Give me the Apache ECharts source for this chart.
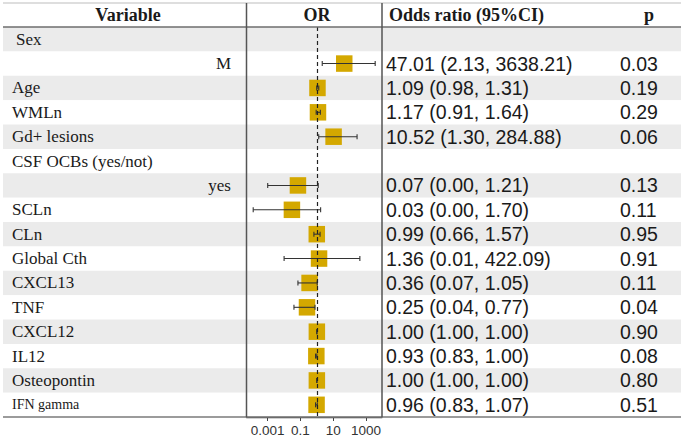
<!DOCTYPE html>
<html>
<head>
<meta charset="utf-8">
<script src="https://cdn.jsdelivr.net/npm/echarts@6/dist/echarts.min.js"></script>
<style>
html,body{margin:0;padding:0;background:#fff;}
#main{width:684px;height:439px;}
</style>
</head>
<body>
<div id="main"></div>
<script>
// ---- data ----
const headers = ['Variable', 'OR', 'Odds ratio (95%CI)', 'p'];
const variables = ['Sex', 'M', 'Age', 'WMLn', 'Gd+ lesions', 'CSF OCBs (yes/not)', 'yes', 'SCLn', 'CLn',
  'Global Cth', 'CXCL13', 'TNF', 'CXCL12', 'IL12', 'Osteopontin', 'IFN gamma'];
const subLevels = ['M', 'yes'];
const orValues = [null, 47.01, 1.09, 1.17, 10.52, null, 0.07, 0.03, 0.99, 1.36, 0.36, 0.25, 1.00, 0.93, 1.00, 0.96];
const ciLower  = [null, 2.13, 0.98, 0.91, 1.30, null, 0.001, 0.00013, 0.66, 0.01, 0.07, 0.04, 1.00, 0.83, 1.00, 0.83];
const ciUpper  = [null, 3638.21, 1.31, 1.64, 284.88, null, 1.21, 1.70, 1.57, 422.09, 1.05, 0.77, 1.00, 1.00, 1.00, 1.07];
const orTexts = ['', '47.01 (2.13, 3638.21)', '1.09 (0.98, 1.31)', '1.17 (0.91, 1.64)', '10.52 (1.30, 284.88)', '',
  '0.07 (0.00, 1.21)', '0.03 (0.00, 1.70)', '0.99 (0.66, 1.57)', '1.36 (0.01, 422.09)', '0.36 (0.07, 1.05)',
  '0.25 (0.04, 0.77)', '1.00 (1.00, 1.00)', '0.93 (0.83, 1.00)', '1.00 (1.00, 1.00)', '0.96 (0.83, 1.07)'];
const pTexts = ['', '0.03', '0.19', '0.29', '0.06', '', '0.13', '0.11', '0.95', '0.91', '0.11', '0.04', '0.90', '0.08', '0.80', '0.51'];
const tickValues = [0.001, 0.1, 10, 1000];
const tickLabels = ['0.001', '0.1', '10', '1000'];
const refValue = 1;

// ---- layout ----
const T_LEFT = 3, T_RIGHT = 681, T_TOP = 27, T_BOTTOM = 417, HEAD_TOP = 3;
const P_LEFT = 246.5, P_RIGHT = 382;
const SERIF = 'Liberation Serif', SANS = 'Liberation Sans';
const GOLD = '#D4A800';

const pointData = [], errData = [];
variables.forEach((v, i) => {
  if (orValues[i] != null) {
    pointData.push([orValues[i], i]);
    errData.push([ciLower[i], ciUpper[i], i]);
  }
});

const chart = echarts.init(document.getElementById('main'), null, {renderer: 'svg'});

function catAxis(gridIndex, extra) {
  return Object.assign({
    type: 'category', gridIndex: gridIndex, inverse: true, data: variables,
    axisLine: {show: false}, axisTick: {show: false}, splitLine: {show: false}
  }, extra);
}

const option = {
  animation: false,
  backgroundColor: '#fff',
  grid: [
    {left: T_LEFT, top: T_TOP, width: T_RIGHT - T_LEFT, height: T_BOTTOM - T_TOP, outerBoundsMode: 'none'},
    {left: P_LEFT, top: T_TOP, width: P_RIGHT - P_LEFT, height: T_BOTTOM - T_TOP, outerBoundsMode: 'none'}
  ],
  xAxis: [
    {type: 'value', gridIndex: 0, show: false, min: 0, max: 1},
    {type: 'log', gridIndex: 1, logBase: 10,
     min: Math.pow(10, -4.295), max: Math.pow(10, 3.977),
     axisLine: {show: true, lineStyle: {color: '#444', width: 1.3}},
     axisTick: {show: true, length: 4, lineStyle: {color: '#444'}, customValues: tickValues},
     axisLabel: {show: true, margin: 6, color: '#333', fontFamily: SANS, fontSize: 13.5, customValues: tickValues,
       formatter: function (v) {
         let best = 0, bd = Infinity;
         tickValues.forEach((t, k) => { const d = Math.abs(Math.log10(t) - Math.log10(v)); if (d < bd) { bd = d; best = k; } });
         return tickLabels[best];
       }},
     splitLine: {show: false}, minorTick: {show: false}}
  ],
  yAxis: [
    catAxis(0, {
      splitArea: {show: true, interval: 0, areaStyle: {color: ['#EBEBEB', '#FFFFFF']}},
      axisLabel: {show: true, interval: 0, inside: true, margin: 9, color: '#1a1a1a', fontFamily: SERIF, fontSize: 17,
        formatter: function (v) {
          if (subLevels.indexOf(v) >= 0) return '{r|' + v + '}';
          if (v === 'IFN gamma') return '{s|' + v + '}';
          if (v === 'Sex') return '{i|' + v + '}';
          return v;
        },
        rich: {
          r: {width: 219, align: 'right', fontFamily: SERIF, fontSize: 17, color: '#1a1a1a'},
          s: {fontFamily: SERIF, fontSize: 14, color: '#1a1a1a'},
          i: {padding: [0, 0, 0, 4], fontFamily: SERIF, fontSize: 17, color: '#1a1a1a'}
        }}
    }),
    catAxis(0, {
      position: 'left', offset: -(386 - T_LEFT),
      axisLabel: {show: true, interval: 0, inside: true, margin: 0, color: '#1a1a1a', fontFamily: SANS, fontSize: 19.5,
        formatter: function (v, i) { return orTexts[i]; }}
    }),
    catAxis(0, {
      position: 'left', offset: -(620 - T_LEFT),
      axisLabel: {show: true, interval: 0, inside: true, margin: 0, color: '#1a1a1a', fontFamily: SANS, fontSize: 19.5,
        formatter: function (v, i) { return pTexts[i]; }}
    }),
    catAxis(1, {axisLabel: {show: false}})
  ],
  series: [
    {
      type: 'scatter', xAxisIndex: 1, yAxisIndex: 3, data: pointData,
      symbol: 'rect', symbolSize: 16.5, itemStyle: {color: GOLD, opacity: 1}, z: 2, silent: true,
      markLine: {
        silent: true, symbol: 'none', label: {show: false}, z: 6,
        lineStyle: {type: [4, 3], color: '#222', width: 1.2},
        data: [{xAxis: refValue}]
      }
    },
    {
      type: 'custom', xAxisIndex: 1, yAxisIndex: 3, data: errData, z: 3, clip: false, silent: true,
      dimensions: ['lo', 'hi', 'row'],
      encode: {x: ['lo', 'hi'], y: 'row'},
      renderItem: function (params, api) {
        const y = api.value(2);
        const a = api.coord([api.value(0), y]);
        const b = api.coord([api.value(1), y]);
        const st = {stroke: '#333', lineWidth: 1.1};
        const h = 2.5;
        return {type: 'group', children: [
          {type: 'line', shape: {x1: a[0], y1: a[1], x2: b[0], y2: b[1]}, style: st},
          {type: 'line', shape: {x1: a[0], y1: a[1] - h, x2: a[0], y2: a[1] + h}, style: st},
          {type: 'line', shape: {x1: b[0], y1: b[1] - h, x2: b[0], y2: b[1] + h}, style: st}
        ]};
      }
    }
  ],
  graphic: [
    {type: 'line', shape: {x1: T_LEFT, y1: HEAD_TOP, x2: T_RIGHT, y2: HEAD_TOP}, style: {stroke: '#BDBDBD', lineWidth: 1}, z: 10},
    {type: 'line', shape: {x1: T_LEFT, y1: T_TOP, x2: T_RIGHT, y2: T_TOP}, style: {stroke: '#6E6E6E', lineWidth: 1.6}, z: 10},
    {type: 'line', shape: {x1: T_LEFT, y1: T_BOTTOM, x2: T_RIGHT, y2: T_BOTTOM}, style: {stroke: '#7A7A7A', lineWidth: 1.6}, z: 10},
    {type: 'line', shape: {x1: P_LEFT, y1: HEAD_TOP, x2: P_LEFT, y2: T_BOTTOM}, style: {stroke: '#555', lineWidth: 1.5}, z: 10},
    {type: 'line', shape: {x1: P_RIGHT, y1: HEAD_TOP, x2: P_RIGHT, y2: T_BOTTOM}, style: {stroke: '#555', lineWidth: 1.5}, z: 10},
    {type: 'text', x: 128, y: 15, style: {text: headers[0], fontFamily: SERIF, fontWeight: 'bold', fontSize: 18, fill: '#1a1a1a', align: 'center', verticalAlign: 'middle'}, z: 10},
    {type: 'text', x: 317, y: 15, style: {text: headers[1], fontFamily: SERIF, fontWeight: 'bold', fontSize: 18, fill: '#1a1a1a', align: 'center', verticalAlign: 'middle'}, z: 10},
    {type: 'text', x: 389, y: 15, style: {text: headers[2], fontFamily: SERIF, fontWeight: 'bold', fontSize: 18, fill: '#1a1a1a', align: 'left', verticalAlign: 'middle'}, z: 10},
    {type: 'text', x: 649, y: 15, style: {text: headers[3], fontFamily: SERIF, fontWeight: 'bold', fontSize: 18, fill: '#1a1a1a', align: 'center', verticalAlign: 'middle'}, z: 10}
  ]
};
chart.setOption(option);
</script>
</body>
</html>
